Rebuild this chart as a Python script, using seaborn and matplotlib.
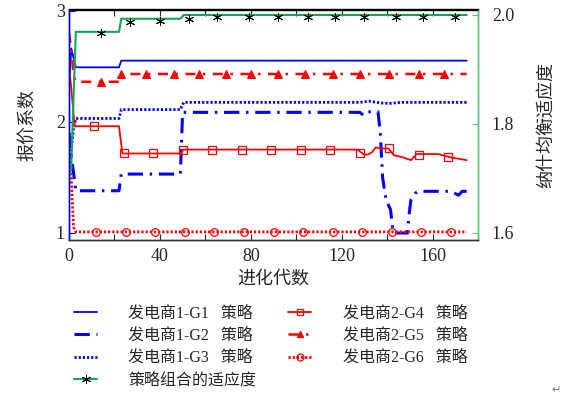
import matplotlib
matplotlib.use("Agg")
import matplotlib.pyplot as plt
from matplotlib.lines import Line2D
import seaborn as sns

# ── Data ─────────────────────────────────────────────────────────────────────
# line break points: generation -> bid coefficient
gen_g1 = [0, 1, 3, 22, 23, 175]
val_g1 = [2.30, 2.66, 2.49, 2.49, 2.55, 2.55]

gen_g2 = [0, 1, 3, 22, 23, 49, 50, 128, 129.5, 131, 136, 137, 138, 139.5,
          141.5, 142.5, 143, 149, 149.5, 150.5, 152.5, 154, 168, 171.5, 173, 175]
val_g2 = [1.90, 1.70, 1.38, 1.38, 1.53, 1.53, 2.085, 2.085, 2.06, 2.09, 2.09,
          1.90, 1.50, 1.30, 1.21, 1.03, 1.00, 1.00, 1.14, 1.30, 1.36, 1.375,
          1.375, 1.34, 1.375, 1.375]

gen_g3 = [0, 1, 2, 3, 22, 23, 49, 50.5, 128, 132, 137, 141, 146, 150, 175]
val_g3 = [1.55, 1.75, 1.95, 2.03, 2.03, 2.11, 2.11, 2.175, 2.175, 2.185,
          2.17, 2.165, 2.175, 2.175, 2.175]

gen_g4 = [0, 1, 2.5, 22, 23.5, 49, 50.5, 127, 129.5, 131.5, 133.5, 135, 137,
          140.5, 143, 147, 150.5, 153, 162.5, 168, 175]
val_g4 = [2.50, 2.30, 1.96, 1.96, 1.715, 1.715, 1.75, 1.75, 1.71, 1.705, 1.73,
          1.77, 1.76, 1.76, 1.70, 1.68, 1.655, 1.71, 1.71, 1.68, 1.655]

gen_g5 = [0, 1, 2, 3, 22, 23, 175]
val_g5 = [2.80, 2.65, 2.42, 2.36, 2.36, 2.43, 2.43]

gen_g6 = [0, 1, 2, 3, 175]
val_g6 = [1.65, 1.50, 1.05, 1.01, 1.01]

# fitness of strategy combination (right axis)
gen_fit = [0, 1, 2, 3, 22, 23, 49, 50.5, 175]
val_fit = [1.70, 1.72, 1.85, 1.969, 1.969, 1.993, 1.993, 2.00, 2.00]

# marker positions
mk_g4_gen = [11, 24, 37, 50, 63, 76, 89, 102, 115, 128, 141, 154, 167]
mk_g4_val = [1.96, 1.715, 1.715, 1.745, 1.75, 1.75, 1.75, 1.75, 1.75, 1.715,
             1.76, 1.70, 1.68]
mk_g5_gen = [14, 23, 34, 46, 57, 69, 80, 92, 104, 116, 128, 141, 154, 165]
mk_g5_val = [2.36, 2.43, 2.43, 2.43, 2.43, 2.43, 2.43, 2.43, 2.43, 2.43,
             2.43, 2.43, 2.43, 2.43]
mk_g6_gen = [12, 25, 38, 51, 64, 77, 90, 103, 116, 129, 142, 155, 168]
mk_g6_val = [1.01] * 13
mk_fit_gen = [14, 27, 40, 53, 65, 79, 92, 105, 117, 130, 144, 156, 170]
mk_fit_val = [1.966, 1.987, 1.989, 1.993, 1.996, 1.996, 1.996, 1.996, 1.996,
              1.996, 1.996, 1.996, 1.996]

labels = ["发电商1-G1   策略", "发电商1-G2   策略", "发电商1-G3   策略",
          "策略组合的适应度",
          "发电商2-G4   策略", "发电商2-G5   策略", "发电商2-G6   策略"]

BLUE = "#0000ff"
RED = "#ff0000"
GREEN = "#10a84a"
GREEN_SPINE = "#55c57a"

sns.set_style("ticks")
plt.rcParams["font.family"] = ["Liberation Serif", "Noto Sans CJK SC", "DejaVu Sans"]
plt.rcParams["axes.unicode_minus"] = False

fig = plt.figure(figsize=(5.64, 3.96), dpi=100)
ax = fig.add_axes([69 / 564, 1 - 240 / 396, (478 - 69) / 564, (240 - 9.5) / 396])
ax2 = ax.twinx()

# ── Left axis: bid coefficients ──────────────────────────────────────────────
sns.lineplot(x=gen_g1, y=val_g1, ax=ax, color=BLUE, lw=1.3)
sns.lineplot(x=gen_g2, y=val_g2, ax=ax, color=BLUE, lw=2.2,
             linestyle=(0, (5, 2.2, 0.8, 2.2)))
sns.lineplot(x=gen_g3, y=val_g3, ax=ax, color=BLUE, lw=2.0,
             linestyle=(0, (0.8, 0.7)))
sns.lineplot(x=gen_g4, y=val_g4, ax=ax, color=RED, lw=1.3)
sns.lineplot(x=gen_g5, y=val_g5, ax=ax, color=RED, lw=1.8,
             linestyle=(0, (4, 3, 1, 3)))
sns.lineplot(x=gen_g6, y=val_g6, ax=ax, color=RED, lw=2.0,
             linestyle=(0, (0.8, 0.7)))

sns.lineplot(x=mk_g4_gen, y=mk_g4_val, ax=ax, linestyle="", marker="s",
             markersize=5.5, markerfacecolor="none", markeredgecolor=RED,
             markeredgewidth=0.9)
sns.lineplot(x=mk_g5_gen, y=mk_g5_val, ax=ax, linestyle="", marker="^",
             markersize=5.5, color=RED, markerfacecolor=RED, markeredgecolor=RED)
sns.lineplot(x=mk_g6_gen, y=mk_g6_val, ax=ax, linestyle="", marker="o",
             markersize=5.5, markerfacecolor="none", markeredgecolor=RED,
             markeredgewidth=0.9)

# ── Right axis: fitness ──────────────────────────────────────────────────────
sns.lineplot(x=gen_fit, y=val_fit, ax=ax2, color=GREEN, lw=1.5)
sns.lineplot(x=mk_fit_gen, y=mk_fit_val, ax=ax2, linestyle="", marker=(6, 2, 0),
             markersize=6.5, markeredgecolor="black", markeredgewidth=0.7)

# ── Axes styling ─────────────────────────────────────────────────────────────
ax.set_xlim(0, 180)
ax.set_ylim(0.937, 3.01)
ax2.set_ylim(1.587, 2.010)

ax.set_xticks(range(0, 181, 20))
ax.set_xticklabels(["0", "", "40", "", "80", "", "120", "", "160", ""])
ax.set_yticks([1, 2, 3])
ax.set_yticklabels(["1", "2", "3"])
ax2.set_yticks([1.6, 1.8, 2.0])
ax2.set_yticklabels(["1.6", "1.8", "2.0"])

ax.tick_params(axis="x", direction="in", top=True, length=4, width=0.8,
               labelsize=13, pad=6)
ax.tick_params(axis="y", direction="in", length=4, width=0.8, color=BLUE,
               labelsize=13, pad=3)
ax2.tick_params(axis="y", direction="in", length=4, width=0.8,
                color=GREEN_SPINE, labelsize=13, pad=10)

for a in (ax, ax2):
    a.spines["left"].set_color(BLUE)
    a.spines["right"].set_color(GREEN_SPINE)
    a.spines["top"].set_color("black")
    a.spines["bottom"].set_color("#333333")
    for s in a.spines.values():
        s.set_linewidth(1.0)

ax.set_xlabel("进化代数", fontsize=13, labelpad=4)
ax.set_ylabel("报价系数", fontsize=13, labelpad=14)
ax2.set_ylabel("纳什均衡适应度", fontsize=13, labelpad=17)

# ── Legend ───────────────────────────────────────────────────────────────────
handles = [
    Line2D([], [], color=BLUE, lw=1.3),
    Line2D([], [], color=BLUE, lw=2.2, linestyle=(0, (5, 2.2, 0.8, 2.2))),
    Line2D([], [], color=BLUE, lw=2.0, linestyle=(0, (0.8, 0.7))),
    Line2D([], [], color=GREEN, lw=1.5, marker=(6, 2, 0), markersize=6.5,
           markeredgecolor="black", markeredgewidth=0.7),
    Line2D([], [], color=RED, lw=1.3, marker="s", markersize=5,
           markerfacecolor="none", markeredgewidth=0.9),
    Line2D([], [], color=RED, lw=1.8, linestyle=(0, (4, 3, 1, 3)), marker="^",
           markersize=5),
    Line2D([], [], color=RED, lw=2.0, linestyle=(0, (0.8, 0.7)), marker="o",
           markersize=5, markerfacecolor="none", markeredgewidth=0.9),
]
fig.legend(handles, labels, ncol=2, loc="upper left",
           bbox_to_anchor=(66 / 564, 1 - 298 / 396), frameon=False,
           fontsize=11.5, handlelength=1.45, handletextpad=1.95,
           columnspacing=2.0, labelspacing=0.38, borderpad=0)

fig.text(556 / 564, 1 - 390 / 396, "↵", fontsize=8, color="#777777",
         ha="center", va="center", family="DejaVu Sans")

fig.savefig("out.png", dpi=100)
